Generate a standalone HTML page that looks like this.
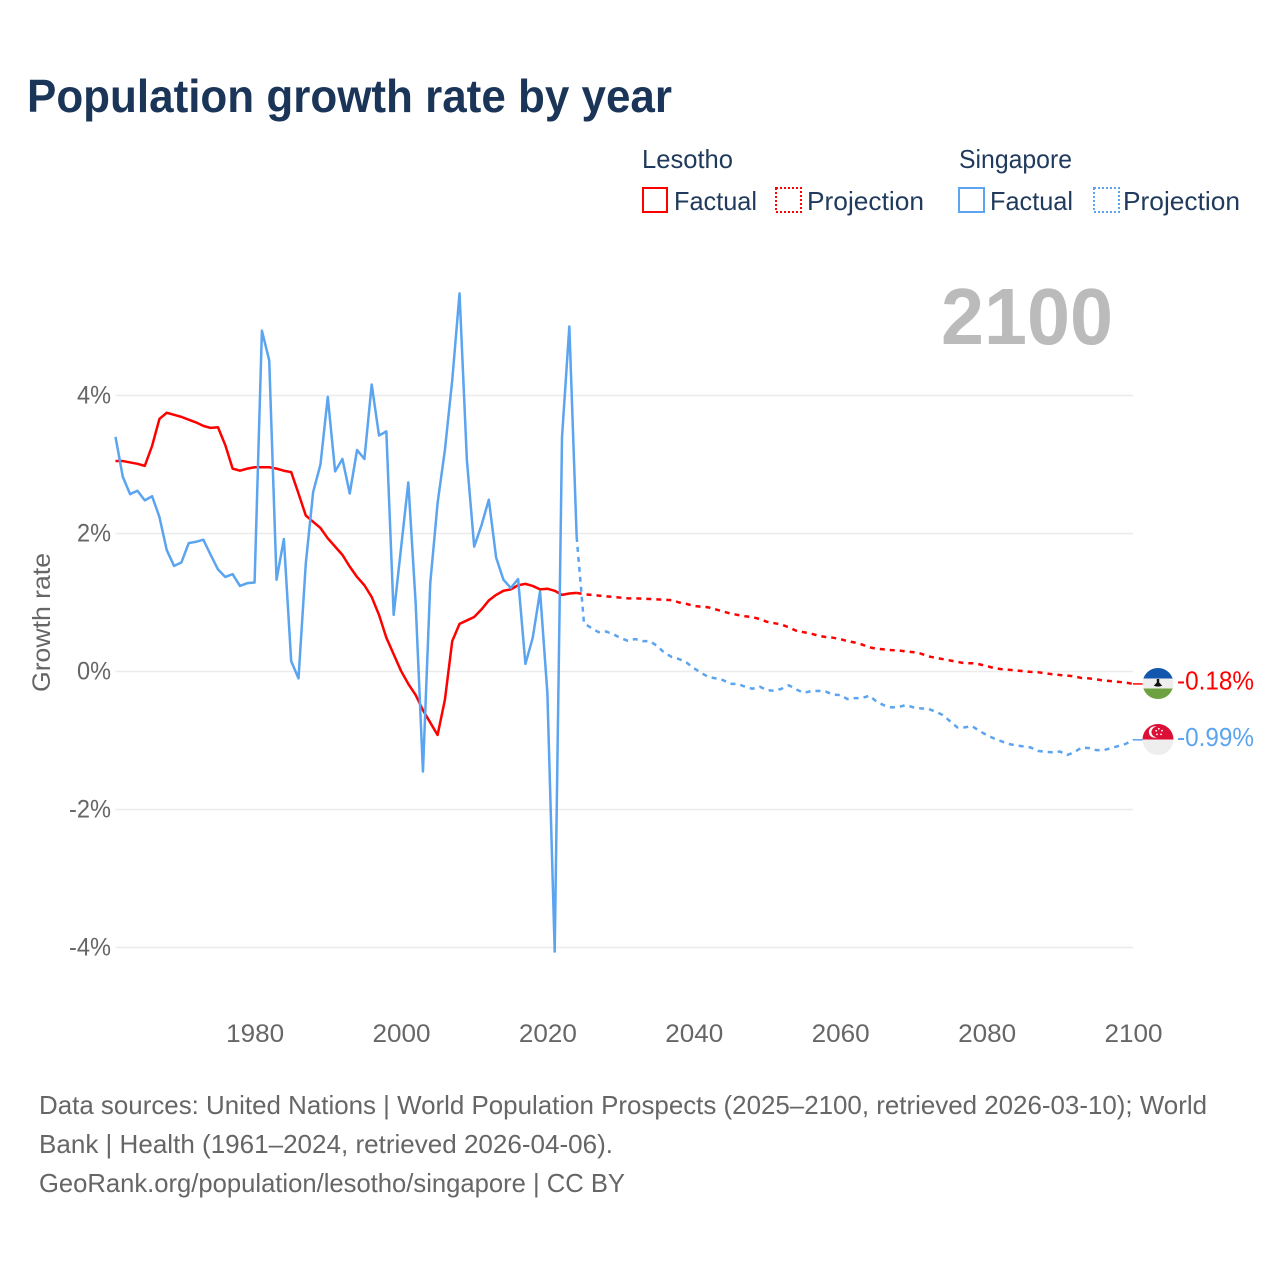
<!DOCTYPE html>
<html lang="en">
<head>
<meta charset="utf-8">
<title>Population growth rate by year</title>
<style>
html,body{margin:0;padding:0;background:#fff;}
body{width:1280px;height:1280px;overflow:hidden;}
svg{display:block;font-family:"Liberation Sans",sans-serif;}
</style>
</head>
<body>
<svg id="chart" width="1280" height="1280" viewBox="0 0 1280 1280" xmlns="http://www.w3.org/2000/svg">
  <defs>
    <clipPath id="flag-clip-ls"><circle cx="1158" cy="683.5" r="15.5"/></clipPath>
    <clipPath id="flag-clip-sg"><circle cx="1158" cy="739.5" r="15.5"/></clipPath>
  </defs>
  <rect x="0" y="0" width="1280" height="1280" fill="#fff"/>
  <text x="27" y="112" font-size="46" font-weight="700" fill="#1a3557" textLength="645" lengthAdjust="spacingAndGlyphs">Population growth rate by year</text>

  <g fill="#1f3a5c" font-size="26">
    <text x="642" y="168" textLength="91" lengthAdjust="spacingAndGlyphs">Lesotho</text>
    <rect x="643" y="188" width="24" height="24" fill="none" stroke="#ff0000" stroke-width="2"/>
    <text x="674" y="210" textLength="83" lengthAdjust="spacingAndGlyphs">Factual</text>
    <rect x="776" y="188" width="25" height="24" fill="none" stroke="#ff0000" stroke-width="2" stroke-dasharray="2 2"/>
    <text x="807" y="210" textLength="117" lengthAdjust="spacingAndGlyphs">Projection</text>
    <text x="959" y="168" textLength="113" lengthAdjust="spacingAndGlyphs">Singapore</text>
    <rect x="959" y="188" width="25" height="24" fill="none" stroke="#5ba4ef" stroke-width="2"/>
    <text x="990" y="210" textLength="83" lengthAdjust="spacingAndGlyphs">Factual</text>
    <rect x="1094" y="188" width="25" height="24" fill="none" stroke="#5ba4ef" stroke-width="2" stroke-dasharray="2 2"/>
    <text x="1123" y="210" textLength="117" lengthAdjust="spacingAndGlyphs">Projection</text>
  </g>

  <g id="grid"></g>
  <g id="y-ticks" fill="#666" font-size="25"></g>
  <g id="x-ticks" fill="#666" font-size="25"></g>

  <text transform="translate(50,622.5) rotate(-90)" text-anchor="middle" font-size="25" fill="#666" textLength="139" lengthAdjust="spacingAndGlyphs">Growth rate</text>

  <text x="941" y="344" font-size="80" font-weight="700" fill="#bbbbbb" textLength="172" lengthAdjust="spacingAndGlyphs">2100</text>

  <g id="series"></g>

  <g clip-path="url(#flag-clip-ls)">
    <rect x="1142" y="668" width="32" height="10.5" fill="#1257ad"/>
    <rect x="1142" y="678.5" width="32" height="10" fill="#eeeeee"/>
    <rect x="1142" y="688.5" width="32" height="11" fill="#6ea13f"/>
    <path d="M1156.8 679h2.4v3.5l3 3.3q-4.2 1.6-8.4 0l3-3.3z" fill="#111"/>
  </g>
  <g clip-path="url(#flag-clip-sg)">
    <rect x="1142" y="724" width="32" height="15.5" fill="#dc0f36"/>
    <rect x="1142" y="739.5" width="32" height="16" fill="#eeeeee"/>
    <circle cx="1154.5" cy="732" r="5.6" fill="#fff"/>
    <circle cx="1156.6" cy="732" r="5.2" fill="#dc0f36"/>
    <g fill="#fff">
      <circle cx="1158.8" cy="728.8" r="0.9"/>
      <circle cx="1162" cy="730.6" r="0.9"/>
      <circle cx="1161" cy="734.4" r="0.9"/>
      <circle cx="1157" cy="734.4" r="0.9"/>
      <circle cx="1156.2" cy="730.8" r="0.9"/>
    </g>
  </g>

  <g id="end-labels" font-size="26"></g>

  <g fill="#666" font-size="26">
    <text x="39" y="1114" textLength="1168" lengthAdjust="spacingAndGlyphs">Data sources: United Nations | World Population Prospects (2025–2100, retrieved 2026-03-10); World</text>
    <text x="39" y="1153" textLength="574" lengthAdjust="spacingAndGlyphs">Bank | Health (1961–2024, retrieved 2026-04-06).</text>
    <text x="39" y="1192" textLength="586" lengthAdjust="spacingAndGlyphs">GeoRank.org/population/lesotho/singapore | CC BY</text>
  </g>
</svg>

<script>
const firstYear = 1961;
const xTickLabels = [1980, 2000, 2020, 2040, 2060, 2080, 2100];
const yTickValues = [4, 2, 0, -2, -4];

// 1961-2024
const lesothoFactual = [3.05,3.05,3.03,3.01,2.98,3.27,3.66,3.75,3.72,3.69,3.65,3.61,3.56,3.53,3.54,3.28,2.94,2.91,2.94,2.96,2.96,2.96,2.94,2.91,2.89,2.58,2.26,2.17,2.08,1.93,1.81,1.69,1.52,1.37,1.25,1.08,0.82,0.49,0.25,0.01,-0.18,-0.34,-0.56,-0.74,-0.92,-0.41,0.44,0.69,0.74,0.79,0.9,1.03,1.11,1.17,1.19,1.25,1.27,1.24,1.19,1.2,1.17,1.11,1.13,1.14];
const singaporeFactual = [3.4,2.82,2.57,2.62,2.48,2.54,2.24,1.76,1.53,1.58,1.86,1.88,1.91,1.69,1.48,1.37,1.41,1.24,1.28,1.29,4.94,4.51,1.33,1.92,0.15,-0.1,1.57,2.6,3.0,3.98,2.9,3.08,2.58,3.21,3.08,4.16,3.42,3.48,0.82,1.78,2.74,1.0,-1.45,1.28,2.44,3.21,4.22,5.48,3.07,1.81,2.12,2.49,1.65,1.33,1.21,1.34,0.11,0.49,1.16,-0.31,-4.06,3.4,5.0,1.95];

// 2025-2100
const lesothoProjection = [1.12,1.11,1.1,1.09,1.08,1.07,1.06,1.06,1.055,1.05,1.045,1.04,1.035,1.0,0.98,0.95,0.94,0.93,0.9,0.87,0.84,0.82,0.8,0.79,0.76,0.72,0.7,0.68,0.64,0.59,0.57,0.55,0.52,0.5,0.49,0.47,0.44,0.42,0.39,0.35,0.33,0.32,0.31,0.305,0.29,0.28,0.26,0.22,0.2,0.18,0.16,0.14,0.12,0.12,0.105,0.08,0.05,0.035,0.025,0.015,0.005,-0.005,-0.01,-0.025,-0.04,-0.05,-0.06,-0.07,-0.095,-0.1,-0.115,-0.13,-0.14,-0.15,-0.16,-0.18];
const singaporeProjection = [0.7,0.63,0.57,0.58,0.54,0.485,0.445,0.47,0.44,0.44,0.37,0.27,0.21,0.18,0.13,0.05,-0.02,-0.08,-0.1,-0.125,-0.18,-0.18,-0.22,-0.25,-0.22,-0.27,-0.28,-0.25,-0.2,-0.26,-0.31,-0.285,-0.28,-0.29,-0.335,-0.34,-0.4,-0.385,-0.385,-0.35,-0.44,-0.49,-0.52,-0.515,-0.485,-0.52,-0.535,-0.54,-0.58,-0.63,-0.72,-0.81,-0.81,-0.79,-0.86,-0.92,-0.97,-1.01,-1.05,-1.07,-1.085,-1.1,-1.15,-1.165,-1.17,-1.16,-1.21,-1.17,-1.1,-1.11,-1.14,-1.14,-1.11,-1.08,-1.05,-0.99];

const SVG_NS = 'http://www.w3.org/2000/svg';
const RED = '#ff0000';
const BLUE = '#5ba4ef';

function xScale(year) { return 115.5 + (year - 1961) * 7.32; }
function yScale(value) { return 671.5 - value * 69; }
function make(tag, parentId) {
  const el = document.createElementNS(SVG_NS, tag);
  document.getElementById(parentId).appendChild(el);
  return el;
}
function pointsPath(startYear, values) {
  return values.map(function (v, i) {
    return (i ? 'L' : 'M') + xScale(startYear + i).toFixed(2) + ' ' + yScale(v).toFixed(2);
  }).join('');
}
function drawLine(el, startYear, values, color, dash) {
  el.setAttribute('d', pointsPath(startYear, values));
  el.setAttribute('fill', 'none');
  el.setAttribute('stroke', color);
  el.setAttribute('stroke-width', '2.5');
  el.setAttribute('stroke-linejoin', 'round');
  if (dash) el.setAttribute('stroke-dasharray', dash);
}
function fmtPct(v) { return v + '%'; }

yTickValues.forEach(function (v) {
  const line = make('line', 'grid');
  
  
  line.setAttribute('x1', xScale(1961));
  line.setAttribute('x2', xScale(2100));
  line.setAttribute('y1', yScale(v));
  line.setAttribute('y2', yScale(v));
  line.setAttribute('stroke', '#ebebeb');
  line.setAttribute('stroke-width', '1.5');

  const label = make('text', 'y-ticks');
  
  
  label.setAttribute('x', 111);
  label.setAttribute('y', yScale(v) + 8);
  label.setAttribute('text-anchor', 'end');
  label.setAttribute('textLength', v < 0 ? '42' : '34');
  label.setAttribute('lengthAdjust', 'spacingAndGlyphs');
  label.textContent = fmtPct(v);
});

xTickLabels.forEach(function (year) {
  const label = make('text', 'x-ticks');
  
  
  label.setAttribute('x', xScale(year) + 0.5);
  label.setAttribute('y', 1042);
  label.setAttribute('text-anchor', 'middle');
  label.setAttribute('textLength', '58');
  label.setAttribute('lengthAdjust', 'spacingAndGlyphs');
  label.textContent = year;
});

const lastFactualYear = firstYear + lesothoFactual.length - 1;

const lesothoProjLine = make('path', 'series');


drawLine(lesothoProjLine, lastFactualYear, [lesothoFactual[lesothoFactual.length - 1]].concat(lesothoProjection), RED, '5 5');

const singaporeProjLine = make('path', 'series');


drawLine(singaporeProjLine, lastFactualYear, [singaporeFactual[singaporeFactual.length - 1]].concat(singaporeProjection), BLUE, '5 5');

const lesothoLine = make('path', 'series');


drawLine(lesothoLine, firstYear, lesothoFactual, RED);

const singaporeLine = make('path', 'series');


drawLine(singaporeLine, firstYear, singaporeFactual, BLUE);

const lesothoEnd = lesothoProjection[lesothoProjection.length - 1];
const singaporeEnd = singaporeProjection[singaporeProjection.length - 1];

const lesothoConnector = make('line', 'series');


lesothoConnector.setAttribute('x1', xScale(2100));
lesothoConnector.setAttribute('x2', xScale(2100) + 10);
lesothoConnector.setAttribute('y1', yScale(lesothoEnd));
lesothoConnector.setAttribute('y2', yScale(lesothoEnd));
lesothoConnector.setAttribute('stroke', RED);
lesothoConnector.setAttribute('stroke-width', '1.5');

const singaporeConnector = make('line', 'series');


singaporeConnector.setAttribute('x1', xScale(2100));
singaporeConnector.setAttribute('x2', xScale(2100) + 10);
singaporeConnector.setAttribute('y1', yScale(singaporeEnd));
singaporeConnector.setAttribute('y2', yScale(singaporeEnd));
singaporeConnector.setAttribute('stroke', BLUE);
singaporeConnector.setAttribute('stroke-width', '1.5');

const lesothoEndLabel = make('text', 'end-labels');


lesothoEndLabel.setAttribute('x', 1177);
lesothoEndLabel.setAttribute('y', yScale(lesothoEnd) + 5.5);
lesothoEndLabel.setAttribute('fill', RED);
lesothoEndLabel.setAttribute('textLength', '77');
lesothoEndLabel.setAttribute('lengthAdjust', 'spacingAndGlyphs');
lesothoEndLabel.textContent = lesothoEnd.toFixed(2) + '%';

const singaporeEndLabel = make('text', 'end-labels');


singaporeEndLabel.setAttribute('x', 1177);
singaporeEndLabel.setAttribute('y', yScale(singaporeEnd) + 6);
singaporeEndLabel.setAttribute('fill', BLUE);
singaporeEndLabel.setAttribute('textLength', '77');
singaporeEndLabel.setAttribute('lengthAdjust', 'spacingAndGlyphs');
singaporeEndLabel.textContent = singaporeEnd.toFixed(2) + '%';
</script>
</body>
</html>
